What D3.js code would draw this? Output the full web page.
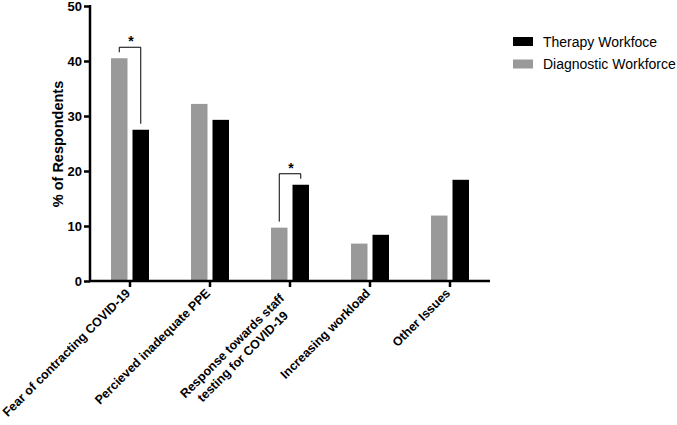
<!DOCTYPE html>
<html><head><meta charset="utf-8">
<script src="https://cdn.jsdelivr.net/npm/d3@7"></script>
<style>body{margin:0;background:#fff}svg{display:block;font-family:"Liberation Sans",Arial,sans-serif}</style>
</head><body><svg id="c" width="677" height="425"></svg>
<script>
const categories = ["Fear of contracting COVID-19","Percieved inadequate PPE","Response towards staff\ntesting for COVID-19","Increasing workload","Other Issues"];
const diagnostic = [40.5, 32.2, 9.7, 6.8, 11.9];
const therapy = [27.5, 29.3, 17.5, 8.4, 18.4];
const yTicks = [0,10,20,30,40,50];
const seriesNames = ["Therapy Workfoce","Diagnostic Workforce"];
const seriesColors = ["#000000","#999999"];
const sig = [0, 2];

const svg = d3.select("#c");
const x = d3.scaleBand().domain(d3.range(categories.length)).range([90,490]);
const y = d3.scaleLinear().domain([0,50]).range([281,6]);
const bw = 16.5, gap = 5;

const g = svg.append("g");
categories.forEach((c,i)=>{
  const cx = x(i)+x.bandwidth()/2;
  g.append("rect").attr("x",cx-gap/2-bw).attr("width",bw).attr("y",y(diagnostic[i])).attr("height",y(0)-y(diagnostic[i])).attr("fill",seriesColors[1]);
  g.append("rect").attr("x",cx+gap/2).attr("width",bw).attr("y",y(therapy[i])).attr("height",y(0)-y(therapy[i])).attr("fill",seriesColors[0]);
});

// significance brackets
sig.forEach(i=>{
  const cx = x(i)+x.bandwidth()/2;
  const lx = cx-gap/2-bw/2, rx = cx+gap/2+bw/2;
  const top = y(Math.max(diagnostic[i],therapy[i]))-11;
  const p = d3.path();
  p.moveTo(lx, y(diagnostic[i])-6); p.lineTo(lx, top); p.lineTo(rx, top); p.lineTo(rx, y(therapy[i])-6);
  svg.append("path").attr("d",p.toString()).attr("fill","none").attr("stroke","#000").attr("stroke-width",1);
  svg.append("text").attr("x",cx+1).attr("y",top-1).attr("text-anchor","middle").attr("font-size",14).attr("font-weight","bold").text("*");
});

// y axis
const ya = svg.append("g").attr("transform","translate(90,0)").call(d3.axisLeft(y).tickValues(yTicks).tickSize(6).tickPadding(2));
ya.select(".domain").attr("stroke-width",2.5).attr("d","M0,"+(y(50)-1)+"V"+(y(0)+1));
ya.selectAll(".tick line").attr("stroke-width",2.5);
ya.selectAll("text").attr("font-size",13).attr("font-weight","bold").attr("font-family","'Liberation Sans',Arial,sans-serif").attr("fill","#000").attr("dy","0.36em");

// x axis
const xa = svg.append("g").attr("transform","translate(0,281)").call(d3.axisBottom(x).tickSize(6).tickFormat(""));
xa.select(".domain").attr("stroke-width",2.5).attr("d","M89,0H490");
xa.selectAll(".tick line").attr("stroke-width",2.5);
const fs = 12.5;
categories.forEach((c,i)=>{
  const cx = x(i)+x.bandwidth()/2;
  const lines = c.split("\n");
  if(lines.length===1){
    svg.append("text").attr("transform",`translate(${cx+1},${294}) rotate(-45)`).attr("text-anchor","end").attr("font-size",fs).attr("font-weight","bold").text(c);
  } else {
    const t = svg.append("text").attr("transform",`translate(${cx-5},${299}) rotate(-45)`).attr("font-size",fs).attr("font-weight","bold");
    const s0 = t.append("tspan").attr("x",0).attr("y",0).text(lines[0]);
    const w1 = s0.node().getComputedTextLength();
    t.selectAll("tspan").remove();
    lines.forEach((l,k)=>{
      t.append("tspan").attr("x",-w1/2).attr("y",k*15).attr("text-anchor","middle").text(l);
    });
  }
});

svg.append("text").attr("transform","translate(63,144) rotate(-90)").attr("text-anchor","middle").attr("font-size",14.5).attr("font-weight","bold").text("% of Respondents");

// legend
seriesNames.forEach((n,k)=>{
  svg.append("rect").attr("x",513).attr("y",37+k*22.5).attr("width",20).attr("height",9).attr("fill",seriesColors[k]);
  svg.append("text").attr("x",543).attr("y",46.5+k*22.5).attr("font-size",14).text(n);
});
</script></body></html>
